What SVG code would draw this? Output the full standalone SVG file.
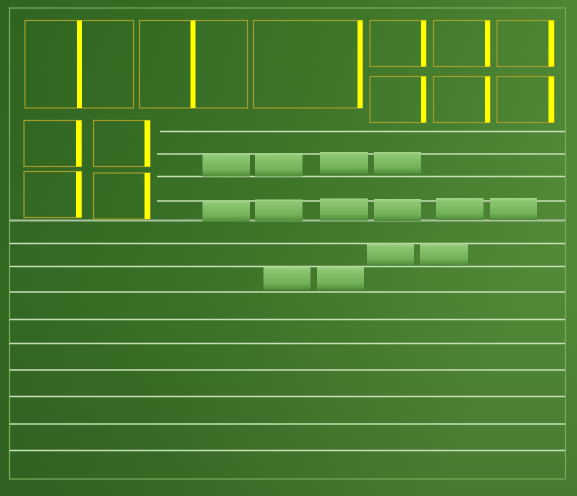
<svg xmlns="http://www.w3.org/2000/svg" width="577" height="496" viewBox="0 0 577 496">
<defs>
<linearGradient id="bg" x1="0" y1="0" x2="1" y2="0.35">
<stop offset="0" stop-color="#2e6420"/>
<stop offset="0.5" stop-color="#3c7428"/>
<stop offset="1" stop-color="#528b38"/>
</linearGradient>
<linearGradient id="shade" x1="0" y1="0" x2="0" y2="1">
<stop offset="0" stop-color="#000" stop-opacity="0"/>
<stop offset="0.6" stop-color="#000" stop-opacity="0.02"/>
<stop offset="1" stop-color="#000" stop-opacity="0.12"/>
</linearGradient>
<linearGradient id="tab" x1="0" y1="0" x2="0" y2="1">
<stop offset="0" stop-color="#a6d68e"/>
<stop offset="0.15" stop-color="#8cc672"/>
<stop offset="0.7" stop-color="#72b258"/>
<stop offset="1" stop-color="#4e8a3a"/>
</linearGradient>
</defs>
<style>
.box{fill:none;stroke:#a39c2c;stroke-width:1.2}
.bar{fill:#ffff00}
.line{stroke:#c6dfb6;stroke-width:1.5}
.tab{fill:url(#tab)}
</style>
<rect x="0" y="0" width="577" height="496" fill="url(#bg)"/>
<rect x="0" y="0" width="577" height="496" fill="url(#shade)"/>
<rect x="9.5" y="8" width="556" height="471" fill="none" stroke="#78aa5a" stroke-width="1.2"/>

<g id="connectors">
<line class="line" x1="160" y1="131.5" x2="565" y2="131.5"/>
<line class="line" x1="157" y1="154" x2="565" y2="154"/>
<line class="line" x1="157" y1="176.5" x2="565" y2="176.5"/>
<line class="line" x1="157" y1="201" x2="565" y2="201"/>
<line x1="9.5" y1="220.5" x2="565" y2="220.5" stroke="#aac4a0" stroke-width="2"/>
<line class="line" x1="9.5" y1="243.5" x2="565" y2="243.5"/>
<line class="line" x1="9.5" y1="266.5" x2="565" y2="266.5"/>
<line class="line" x1="9.5" y1="292" x2="565" y2="292"/>
<line class="line" x1="9.5" y1="319.5" x2="565" y2="319.5"/>
<line class="line" x1="9.5" y1="343.5" x2="565" y2="343.5"/>
<line class="line" x1="9.5" y1="370" x2="565" y2="370"/>
<line class="line" x1="9.5" y1="396.5" x2="565" y2="396.5"/>
<line class="line" x1="9.5" y1="424" x2="565" y2="424"/>
<line class="line" x1="9.5" y1="450.5" x2="565" y2="450.5"/>
</g>

<g id="box1"><rect class="box" x="25" y="20.5" width="108.5" height="87.5"/><rect class="bar" x="77" y="20.5" width="5" height="87.5"/></g>
<g id="box2"><rect class="box" x="139.5" y="20.5" width="108" height="87.5"/><rect class="bar" x="190.5" y="20.5" width="5" height="87.5"/></g>
<g id="box3"><rect class="box" x="253.5" y="20.5" width="109" height="87.5"/><rect class="bar" x="357.5" y="20.5" width="5" height="87.5"/></g>

<g id="box4"><rect class="box" x="370" y="20.5" width="56" height="46"/><rect class="bar" x="421" y="20.5" width="5" height="46"/></g>
<g id="box5"><rect class="box" x="433.5" y="20.5" width="56.5" height="46"/><rect class="bar" x="485" y="20.5" width="5" height="46"/></g>
<g id="box6"><rect class="box" x="497" y="20.5" width="57" height="46"/><rect class="bar" x="548.5" y="20.5" width="5.5" height="46"/></g>
<g id="box7"><rect class="box" x="370" y="76.5" width="56" height="46"/><rect class="bar" x="421" y="76.5" width="5" height="46"/></g>
<g id="box8"><rect class="box" x="433.5" y="76.5" width="56.5" height="46"/><rect class="bar" x="485" y="76.5" width="5" height="46"/></g>
<g id="box9"><rect class="box" x="497" y="76.5" width="57" height="46"/><rect class="bar" x="548.5" y="76.5" width="5.5" height="46"/></g>

<g id="box10"><rect class="box" x="24" y="120.5" width="57.5" height="46"/><rect class="bar" x="76" y="120.5" width="5.5" height="46"/></g>
<g id="box11"><rect class="box" x="93.5" y="120.5" width="56.5" height="46"/><rect class="bar" x="144.5" y="120.5" width="5.5" height="46"/></g>
<g id="box12"><rect class="box" x="24" y="171.5" width="57.5" height="46"/><rect class="bar" x="76" y="171.5" width="5.5" height="46"/></g>
<g id="box13"><rect class="box" x="93.5" y="173" width="56.5" height="46"/><rect class="bar" x="144.5" y="173" width="5.5" height="46"/></g>

<g id="tabs1">
<rect class="tab" x="202.5" y="153.5" width="47.5" height="23"/>
<rect class="tab" x="255" y="153" width="47.5" height="23.5"/>
<rect class="tab" x="320" y="152" width="48" height="22"/>
<rect class="tab" x="374" y="152" width="47" height="22"/>
</g>
<g id="tabs2">
<rect class="tab" x="202.5" y="200.5" width="47.5" height="21.5"/>
<rect class="tab" x="255" y="199.5" width="47.5" height="22"/>
<rect class="tab" x="320" y="198.5" width="48" height="22"/>
<rect class="tab" x="374" y="199" width="47" height="22"/>
<rect class="tab" x="436" y="198" width="47.5" height="22"/>
<rect class="tab" x="490" y="198" width="47" height="22"/>
</g>
<g id="tabs3">
<rect class="tab" x="367" y="243.5" width="47" height="22"/>
<rect class="tab" x="420" y="243.5" width="48" height="22"/>
</g>
<g id="tabs4">
<rect class="tab" x="263.5" y="266.5" width="47" height="23.5"/>
<rect class="tab" x="317" y="266.5" width="47" height="23.5"/>
</g>
</svg>
